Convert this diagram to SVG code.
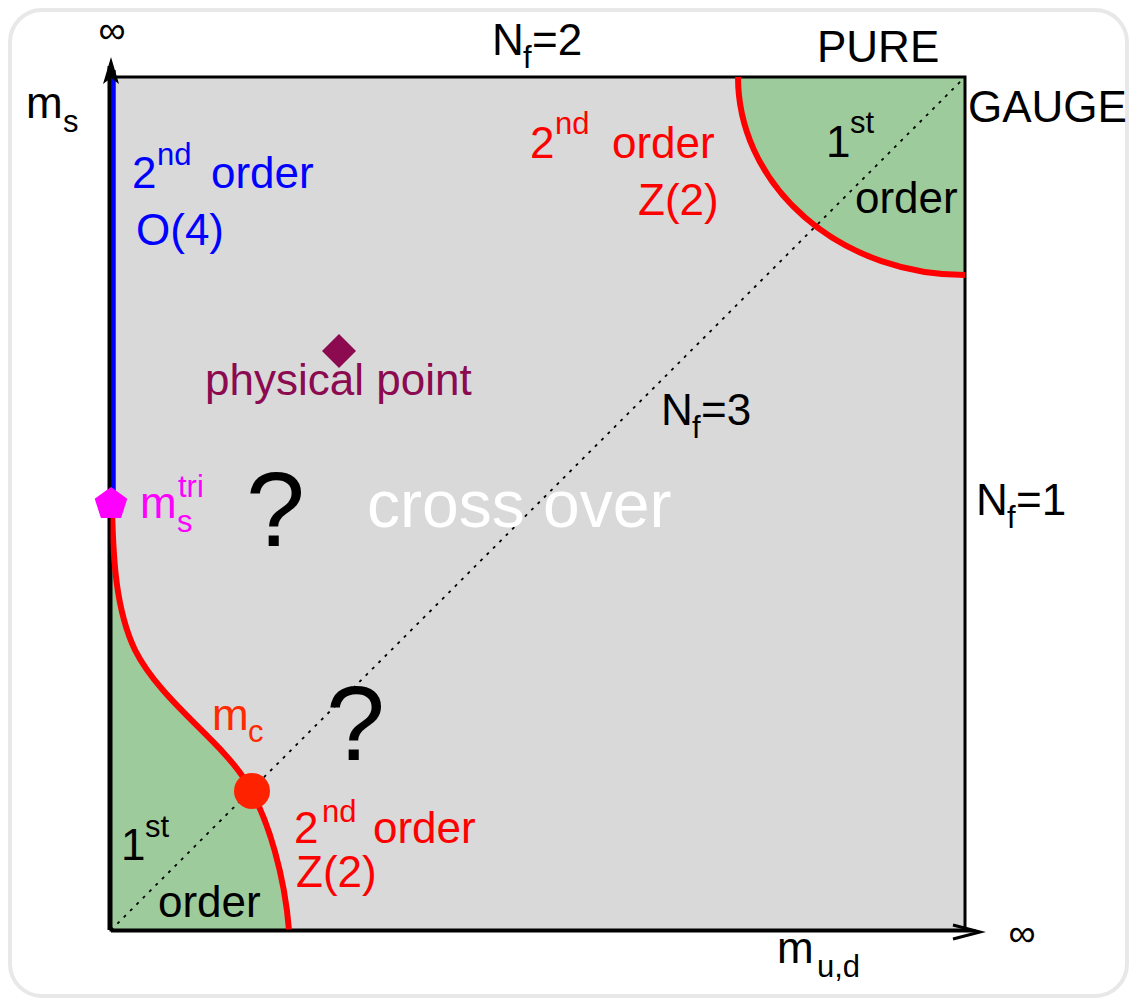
<svg xmlns="http://www.w3.org/2000/svg" width="1137" height="1003" viewBox="0 0 1137 1003">
<style>
text{font-family:"Liberation Sans",Arial,Helvetica,sans-serif;font-size:44px;fill:#000}
.sup{font-size:31px}
.blue{fill:#0000ff}
.red{fill:#ff0000}
.mc{fill:#ff2a00}
.mag{fill:#ff00ff}
.phys{fill:#8b0a50}
.q{font-size:106px}
.inf{font-size:38px}
.cross{font-size:66px;fill:#ffffff}
.crit{fill:none;stroke:#ff0000;stroke-width:6}
</style>
<rect x="10" y="10" width="1117" height="986" rx="32" fill="#ffffff" stroke="#e8e8e8" stroke-width="4"/>
<g id="plane">
<rect x="111" y="77" width="854" height="853" fill="#d9d9d9"/>
<path d="M738,77 A227,198 0 0 0 965,275 L965,77 Z" fill="#9ecb9c"/>
<path d="M112,505 C113,560 116,610 135,650 C160,700 220,740 245,780 C270,820 285,880 289,930 L111,930 L111,505 Z" fill="#9ecb9c"/>
<rect x="111" y="77" width="854" height="853" fill="none" stroke="#000" stroke-width="3"/>
</g>
<g id="connectors">
<line x1="111" y1="930" x2="965" y2="77" stroke="#000" stroke-width="1.8" stroke-dasharray="3,6"/>
<path class="crit" d="M738,77 A227,198 0 0 0 965,275"/>
<path class="crit" d="M112,505 C113,560 116,610 135,650 C160,700 220,740 245,780 C270,820 285,880 289,930"/>
<line x1="109" y1="930" x2="109" y2="66" stroke="#000" stroke-width="3"/>
<line x1="113.5" y1="70" x2="113.5" y2="496" stroke="#0000ff" stroke-width="4.5"/>
<path d="M111,57 L119,84 L111,78 L103,84 Z" fill="#000"/>
<line x1="111" y1="931" x2="976" y2="931" stroke="#000" stroke-width="3"/>
<path d="M953,925 L980,932 L953,939" fill="none" stroke="#000" stroke-width="3"/>
</g>
<g id="physical-point">
<path d="M339,334 L356,351 L339,368 L322,351 Z" fill="#8b0a50"/>
<text x="205" y="395" class="phys">physical point</text>
</g>
<g id="tricritical">
<path d="M111,487 L127.3,498.8 L121.1,518 L100.9,518 L94.7,498.8 Z" fill="#ff00ff"/>
<text x="140" y="518" class="mag">m</text>
<text x="178" y="497" class="mag sup">tri</text>
<text x="177" y="532" class="mag sup">s</text>
</g>
<g id="critical-point">
<circle cx="252" cy="791" r="18" fill="#ff2200"/>
<text x="212" y="730" class="mc">m</text>
<text x="248" y="742" class="mc sup">c</text>
</g>
<g id="labels">
<text x="112" y="43" text-anchor="middle" class="inf">∞</text>
<text x="26" y="118">m</text>
<text x="63" y="132" class="sup">s</text>
<text x="492" y="55">N</text>
<text x="523" y="68" class="sup">f</text>
<text x="532" y="55">=2</text>
<text x="817" y="62">PURE</text>
<text x="968" y="122">GAUGE</text>
<text x="826" y="157">1</text>
<text x="850" y="133" class="sup">st</text>
<text x="855" y="213">order</text>
<text x="530" y="158" class="red">2</text>
<text x="555" y="134" class="red sup">nd</text>
<text x="612" y="158" class="red">order</text>
<text x="638" y="215" class="red">Z(2)</text>
<text x="132" y="188" class="blue">2</text>
<text x="157" y="165" class="blue sup">nd</text>
<text x="211" y="188" class="blue">order</text>
<text x="136" y="245" class="blue">O(4)</text>
<text x="661" y="425">N</text>
<text x="692" y="438" class="sup">f</text>
<text x="701" y="425">=3</text>
<text x="976" y="515">N</text>
<text x="1007" y="528" class="sup">f</text>
<text x="1016" y="515">=1</text>
<text x="367" y="527" class="cross">cross over</text>
<text x="246" y="546" class="q">?</text>
<text x="326" y="760" class="q">?</text>
<text x="121" y="860">1</text>
<text x="145" y="837" class="sup">st</text>
<text x="158" y="917">order</text>
<text x="294" y="843" class="red">2</text>
<text x="322" y="822" class="red sup">nd</text>
<text x="373" y="843" class="red">order</text>
<text x="296" y="887" class="red">Z(2)</text>
<text x="777" y="963">m</text>
<text x="817" y="977" class="sup">u,d</text>
<text x="1022" y="946" text-anchor="middle" class="inf">∞</text>
</g>
</svg>
